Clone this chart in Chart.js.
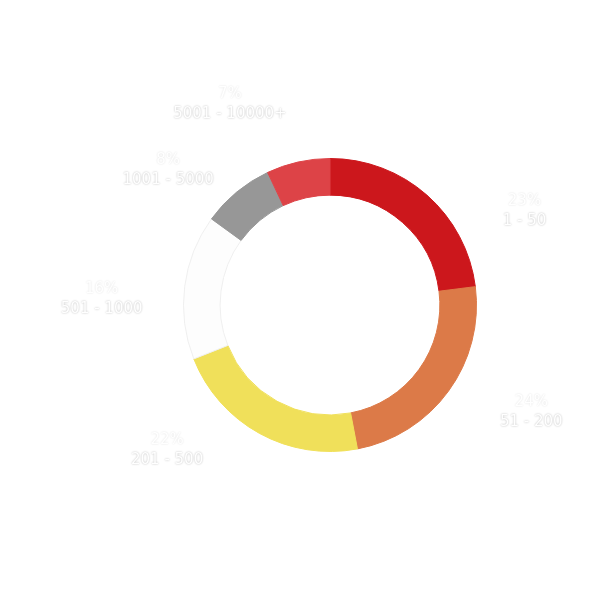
<!DOCTYPE html>
<html>
<head>
<meta charset="utf-8">
<script src="https://cdn.jsdelivr.net/npm/chart.js@4.4.1/dist/chart.umd.min.js"></script>
<style>
  html, body { margin: 0; padding: 0; background: #fff; }
  #wrap { width: 600px; height: 600px; }
</style>
</head>
<body>
<div id="wrap"><canvas id="donut"></canvas></div>
<script>
// company size buckets and their share (%)
const categories = ["1 - 50", "51 - 200", "201 - 500", "501 - 1000", "1001 - 5000", "5001 - 10000+"];
const shares = [23, 24, 22, 16, 8, 7];
const sliceColors = ["#cc171c", "#dc7a48", "#f0e05a", "#fdfdfd", "#979797", "#dd4347"];
const sliceBorders = ["#cc171c", "#dc7a48", "#f0e05a", "#efefef", "#979797", "#dd4347"];

// label layout tweaks: angle nudge (deg) and distance past the outer edge (px)
const labelNudge = [22, -8.7, 20, -5, -10, -13.5];
const labelReach = [71, 80, 70, 82, 66, 81];

const outLabels = {
    id: "outLabels",
    afterDatasetsDraw(chart) {
        const ctx = chart.ctx;
        const meta = chart.getDatasetMeta(0);
        ctx.save();
        ctx.textAlign = "center";
        ctx.textBaseline = "middle";
        ctx.font = "15px 'DejaVu Sans'";
        ctx.fillStyle = "#ffffff";
        meta.data.forEach((arc, i) => {
            const p = arc.getProps(["x", "y", "startAngle", "endAngle", "outerRadius"], true);
            const mid = (p.startAngle + p.endAngle) / 2 + labelNudge[i] * Math.PI / 180;
            const r = p.outerRadius + labelReach[i];
            const cx = p.x + Math.cos(mid) * r;
            const cy = p.y + Math.sin(mid) * r;

            ctx.shadowColor = "rgba(0,0,0,0.14)";
            ctx.shadowBlur = 2;
            ctx.fillText(shares[i] + "%", cx, cy - 7);

            ctx.shadowColor = "rgba(0,0,0,0.3)";
            ctx.shadowBlur = 2;
            ctx.fillText(categories[i], cx, cy + 13);
        });
        ctx.restore();
    }
};

new Chart(document.getElementById("donut").getContext("2d"), {
    type: "doughnut",
    data: {
        labels: categories,
        datasets: [{
            data: shares,
            backgroundColor: sliceColors,
            borderColor: sliceBorders,
            borderWidth: 1
        }]
    },
    options: {
        responsive: true,
        maintainAspectRatio: false,
        animation: false,
        cutout: "75%",
        layout: {
            padding: { left: 183, right: 123, top: 158, bottom: 148 }
        },
        plugins: {
            legend: { display: false },
            tooltip: { enabled: false }
        }
    },
    plugins: [outLabels]
});
</script>
</body>
</html>
